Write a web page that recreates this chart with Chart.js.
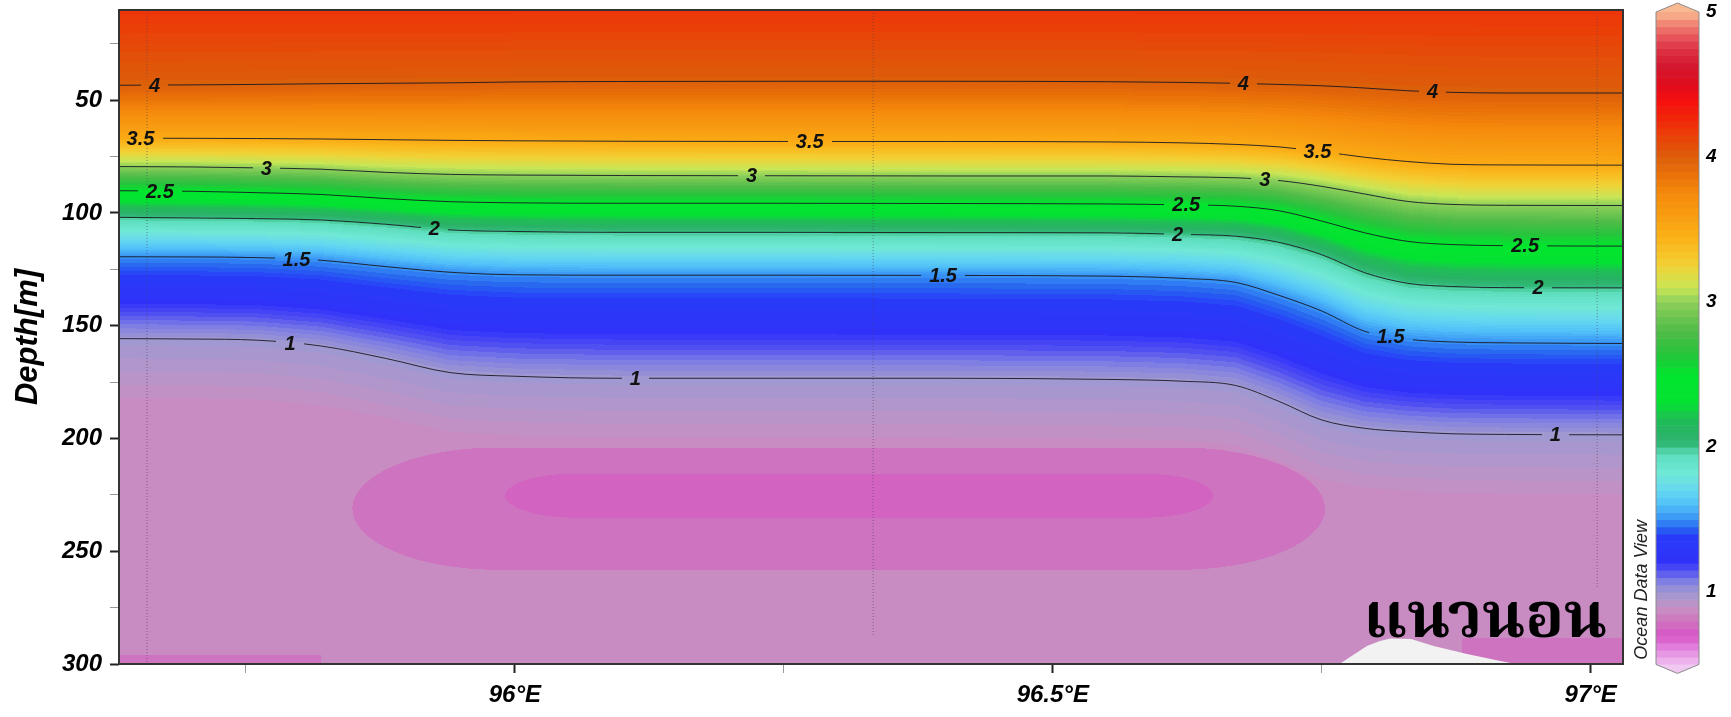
<!DOCTYPE html>
<html>
<head>
<meta charset="utf-8">
<script src="https://cdn.jsdelivr.net/npm/chart.js@4.4.1/dist/chart.umd.min.js"></script>
<style>
  html, body { margin: 0; padding: 0; background: #fff; }
  canvas { display: block; }
</style>
</head>
<body>
<canvas id="sectionChart" width="1731" height="717"></canvas>
<script>
// stations along the section and the deepest sample of each
const stationLon = [95.658, 96.333, 97.006];
const stationDepth = [300, 288, 266];

const sampleLon = [95.62, 95.70, 95.76, 95.82, 95.88, 95.94, 96.00, 96.10, 96.25, 96.40, 96.55, 96.62, 96.67, 96.71, 96.75, 96.79, 96.83, 96.87, 96.92, 97.04];

// contour levels and depth (m) of each isoline at sampleLon
const levels = [4, 3.5, 3, 2.5, 2, 1.5, 1];
const iso4  = [43.4, 43.2, 43.0, 42.7, 42.5, 42.3, 41.9, 41.7, 41.6, 41.6, 41.8, 42.1, 42.5, 43.0, 43.6, 44.6, 45.8, 46.5, 46.8, 46.8];
const iso35 = [66.8, 66.9, 67.0, 67.2, 67.5, 67.8, 68.0, 68.2, 68.3, 68.3, 68.5, 68.9, 69.6, 70.7, 72.8, 75.3, 77.2, 78.4, 78.7, 78.8];
const iso3  = [79.4, 79.6, 80.0, 80.6, 82.0, 82.9, 83.2, 83.4, 83.5, 83.6, 83.6, 84.0, 84.4, 85.6, 88.2, 91.6, 94.9, 96.2, 96.6, 96.7];
const iso25 = [90.1, 90.4, 91.0, 91.8, 93.6, 95.0, 95.5, 95.7, 95.7, 95.8, 96.0, 96.4, 97.0, 99.0, 103.6, 108.8, 112.6, 114.0, 114.5, 114.7];
const iso2  = [101.9, 102.2, 102.5, 103.1, 105.0, 107.5, 108.2, 108.6, 108.6, 108.7, 108.8, 109.5, 110.3, 113.0, 118.5, 126.5, 131.2, 132.6, 133.1, 133.2];
const iso15 = [119.4, 119.5, 119.8, 121.0, 123.8, 126.3, 127.4, 127.6, 127.6, 127.7, 128.0, 129.0, 130.8, 136.5, 143.5, 152.5, 156.0, 157.2, 157.6, 157.9];
const iso1  = [155.7, 155.9, 156.4, 159.0, 164.5, 170.8, 172.4, 173.3, 173.3, 173.3, 173.8, 174.6, 176.5, 183.5, 191.8, 195.5, 197.0, 197.9, 198.2, 198.4];
const surfaceValue = 4.2;
const deepValue = 0.88;

// low-value cores and patches below the 1 isoline
const coreLonMin   = [95.849, 95.991, 95.60, 96.88];
const coreLonMax   = [96.753, 96.649, 95.82, 97.05];
const coreDepthMin = [204.0, 215.6, 296.0, 288.5];
const coreDepthMax = [258.2, 235.1, 310.0, 310.0];
const coreEnd      = [0.135, 0.065, 0, 0];
const coreValue    = [0.81, 0.755, 0.81, 0.81];

// area without data near the bottom
const gapLon   = [96.765, 96.776, 96.792, 96.804, 96.814, 96.833, 96.854, 96.885, 96.916, 96.936];
const gapDepth = [300.5, 297.0, 292.0, 289.8, 288.7, 288.9, 292.0, 295.6, 298.7, 300.5];

// contour labels
const labelLevel = [4, 4, 4, 3.5, 3.5, 3.5, 3, 3, 3, 2.5, 2.5, 2.5, 2, 2, 2, 1.5, 1.5, 1.5, 1, 1, 1];
const labelLon = [95.665, 96.677, 96.853, 95.652, 96.274, 96.746, 95.769, 96.220, 96.697, 95.670, 96.624, 96.939,
                  95.925, 96.616, 96.951, 95.797, 96.398, 96.814, 95.791, 96.112, 96.967];

// axis ticks
const depthTicks = [25, 50, 75, 100, 125, 150, 175, 200, 225, 250, 275, 300];
const lonTicks = [95.75, 96, 96.25, 96.5, 96.75, 97];
const colorTicks = [1, 2, 3, 4, 5];

const isoLines = [iso4, iso35, iso3, iso25, iso2, iso15, iso1];

const colorStops = [
  [0.5, 240, 190, 240], [0.6, 228, 140, 225], [0.7, 215, 85, 200], [0.76, 210, 102, 192],
  [0.82, 204, 122, 190], [0.88, 200, 142, 195], [0.94, 180, 150, 202], [1.0, 160, 152, 208],
  [1.08, 125, 125, 228], [1.15, 80, 80, 242], [1.22, 48, 50, 250], [1.38, 40, 58, 248],
  [1.45, 40, 105, 240], [1.5, 55, 145, 245], [1.6, 80, 190, 248], [1.7, 100, 215, 240],
  [1.82, 112, 232, 215], [1.95, 95, 222, 190], [2.02, 50, 185, 120], [2.1, 40, 178, 100],
  [2.2, 30, 190, 85], [2.3, 5, 225, 50], [2.5, 0, 230, 45], [2.65, 40, 195, 60],
  [2.8, 80, 188, 72], [3.0, 140, 207, 90], [3.1, 200, 230, 85], [3.25, 240, 210, 55],
  [3.4, 250, 185, 30], [3.5, 250, 170, 20], [3.75, 245, 138, 12], [3.9, 232, 110, 8],
  [4.0, 220, 95, 10], [4.15, 234, 64, 8], [4.28, 242, 35, 10], [4.39, 245, 15, 12],
  [4.5, 225, 12, 30], [4.62, 210, 22, 45], [4.76, 222, 55, 72], [4.86, 235, 100, 100],
  [4.95, 243, 150, 125], [5.0, 248, 185, 145]
];

function colorFor(v) {
  if (v <= colorStops[0][0]) return colorStops[0].slice(1);
  for (let i = 1; i < colorStops.length; i++) {
    const b = colorStops[i];
    if (v <= b[0]) {
      const a = colorStops[i - 1];
      const t = (v - a[0]) / (b[0] - a[0]);
      return [0, 1, 2].map(k => Math.round(a[k + 1] + t * (b[k + 1] - a[k + 1])));
    }
  }
  return colorStops[colorStops.length - 1].slice(1);
}
const rgb = c => 'rgb(' + c.join(',') + ')';

// lookup table, field is shown in steps of 0.025
const STEP = 0.025;
const lut = [];
for (let i = 0; i <= 180; i++) lut.push(colorFor(0.5 + i * STEP));

function interpAt(xs, ys, x) {
  if (x <= xs[0]) return ys[0];
  for (let i = 1; i < xs.length; i++) {
    if (x <= xs[i]) {
      const t = (x - xs[i - 1]) / (xs[i] - xs[i - 1]);
      return ys[i - 1] + t * (ys[i] - ys[i - 1]);
    }
  }
  return ys[ys.length - 1];
}

function fieldValue(lon, depth, d) {
  const n = d.length;
  let v;
  if (depth <= d[0]) {
    v = levels[0] + (surfaceValue - levels[0]) * Math.min(1, (d[0] - depth) / (d[0] - 10));
  } else if (depth >= d[n - 1]) {
    v = levels[n - 1] + (deepValue - levels[n - 1]) * Math.min(1, (depth - d[n - 1]) / 28);
  } else {
    for (let k = 0; k < n - 1; k++) {
      if (depth <= d[k + 1]) {
        v = levels[k] + (levels[k + 1] - levels[k]) * (depth - d[k]) / (d[k + 1] - d[k]);
        break;
      }
    }
  }
  for (let b = 0; b < coreValue.length; b++) {
    if (lon < coreLonMin[b] || lon > coreLonMax[b] || depth < coreDepthMin[b] || depth > coreDepthMax[b]) continue;
    const r = coreEnd[b];
    let inside = true;
    if (r > 0) {
      const dx = Math.max(0, coreLonMin[b] + r - lon, lon - (coreLonMax[b] - r)) / r;
      const c = (coreDepthMin[b] + coreDepthMax[b]) / 2;
      const h = (coreDepthMax[b] - coreDepthMin[b]) / 2;
      const dy = (depth - c) / h;
      inside = dx * dx + dy * dy <= 1;
    }
    if (inside) v = Math.min(v, coreValue[b]);
  }
  return v;
}

let field = null;
function buildField(chart) {
  const {left, top, right, bottom} = chart.chartArea;
  const w = Math.round(right - left), h = Math.round(bottom - top);
  const off = document.createElement('canvas');
  off.width = w; off.height = h;
  const octx = off.getContext('2d');
  const img = octx.createImageData(w, h);
  const xs = chart.scales.x, ys = chart.scales.y;
  const depths = [];
  for (let j = 0; j < h; j++) depths.push(ys.getValueForPixel(top + j + 0.5));
  for (let i = 0; i < w; i++) {
    const lon = xs.getValueForPixel(left + i + 0.5);
    const d = isoLines.map(a => interpAt(sampleLon, a, lon));
    for (let j = 0; j < h; j++) {
      const v = fieldValue(lon, depths[j], d);
      const idx = Math.max(0, Math.min(180, Math.round((v - 0.5) / STEP)));
      const c = lut[idx];
      const p = (j * w + i) * 4;
      img.data[p] = c[0]; img.data[p + 1] = c[1]; img.data[p + 2] = c[2]; img.data[p + 3] = 255;
    }
  }
  octx.putImageData(img, 0, 0);
  return {canvas: off, left, top, w, h};
}

const FONT = '"Liberation Sans", Arial, sans-serif';

const sectionPlugin = {
  id: 'section',
  beforeDatasetsDraw(chart) {
    if (!field) field = buildField(chart);
    chart.ctx.drawImage(field.canvas, field.left, field.top);
  },
  afterDatasetsDraw(chart) {
    const ctx = chart.ctx;
    const xs = chart.scales.x, ys = chart.scales.y;
    const area = chart.chartArea;
    ctx.save();
    ctx.beginPath();
    ctx.rect(area.left, area.top, area.right - area.left, area.bottom - area.top);
    ctx.clip();
    ctx.font = 'italic bold 20px ' + FONT;
    ctx.textAlign = 'center';
    ctx.textBaseline = 'middle';
    ctx.fillStyle = '#111';
    labelLevel.forEach((lev, k) => {
      const lon = labelLon[k];
      const depth = interpAt(sampleLon, isoLines[levels.indexOf(lev)], lon);
      const px = xs.getPixelForValue(lon), py = ys.getPixelForValue(depth);
      const text = String(lev);
      const bw = ctx.measureText(text).width + 16, bh = 12;
      const bx = Math.max(area.left, px - bw / 2), by = py - bh / 2;
      ctx.drawImage(field.canvas, bx - field.left, by - field.top, bw, bh, bx, by, bw, bh);
      ctx.fillText(text, px, py + 1);
    });
    // section title inside the plot
    ctx.font = 'bold 64px "Noto Serif Thai", "Noto Sans Thai Looped", Norasi, Kinnari, "Tlwg Typo", Garuda, Loma, "Noto Sans Thai", sans-serif';
    ctx.textAlign = 'right';
    ctx.textBaseline = 'alphabetic';
    ctx.fillStyle = '#000';
    ctx.fillText('แนวนอน', area.right - 16, area.bottom - 27);
    ctx.restore();
  },
  afterDraw(chart) {
    const ctx = chart.ctx;
    const area = chart.chartArea;
    ctx.save();
    // plot frame
    ctx.strokeStyle = '#333';
    ctx.lineWidth = 2;
    ctx.strokeRect(area.left, area.top, area.right - area.left, area.bottom - area.top);

    // colour bar on the cb scale
    const cb = chart.scales.cb;
    const x0 = cb.left + 33, bw = 43;
    for (let i = 0; i < 90; i++) {
      const v0 = 0.5 + i * 0.05;
      const yTop = cb.getPixelForValue(v0 + 0.05), yBot = cb.getPixelForValue(v0);
      ctx.fillStyle = rgb(colorFor(v0 + 0.025));
      ctx.fillRect(x0, yTop, bw, yBot - yTop + 0.6);
    }
    const y5 = cb.getPixelForValue(5), y05 = cb.getPixelForValue(0.5);
    ctx.fillStyle = rgb(colorFor(5));
    ctx.beginPath();
    ctx.moveTo(x0, y5); ctx.lineTo(x0 + bw / 2, y5 - 9); ctx.lineTo(x0 + bw, y5); ctx.closePath();
    ctx.fill();
    ctx.fillStyle = 'rgb(240,200,242)';
    ctx.beginPath();
    ctx.moveTo(x0, y05); ctx.lineTo(x0 + bw / 2, y05 + 9); ctx.lineTo(x0 + bw, y05); ctx.closePath();
    ctx.fill();
    ctx.strokeStyle = '#8a8a8a';
    ctx.lineWidth = 1;
    ctx.beginPath();
    ctx.moveTo(x0, y5); ctx.lineTo(x0 + bw / 2, y5 - 9); ctx.lineTo(x0 + bw, y5);
    ctx.lineTo(x0 + bw, y05); ctx.lineTo(x0 + bw / 2, y05 + 9); ctx.lineTo(x0, y05); ctx.closePath();
    ctx.stroke();

    // software tag
    ctx.translate(cb.left + 18.5, cb.getPixelForValue(1.015));
    ctx.rotate(-Math.PI / 2);
    ctx.font = 'italic 18px ' + FONT;
    ctx.fillStyle = '#222';
    ctx.textAlign = 'center';
    ctx.textBaseline = 'middle';
    ctx.fillText('Ocean Data View', 0, 0);
    ctx.restore();
  }
};

const isMajorLon = v => Math.abs(v * 2 - Math.round(v * 2)) < 1e-6;
const tickFont = {family: FONT, size: 24, style: 'italic', weight: 'bold'};

// vertical scales must not push the plot area down with their label padding
function fixVertical(width) {
  return s => { s.width = width; s.paddingTop = 0; s.paddingBottom = 0; };
}

const datasets = [];
levels.forEach((lev, k) => {
  datasets.push({
    label: 'isoline ' + lev,
    data: sampleLon.map((x, i) => ({x, y: isoLines[k][i]})),
    borderColor: 'rgba(25,25,35,0.9)',
    borderWidth: 1,
    pointRadius: 0,
    cubicInterpolationMode: 'monotone',
    fill: false
  });
});
stationLon.forEach((lon, k) => {
  datasets.push({
    label: 'station ' + (k + 1),
    data: [{x: lon, y: 10}, {x: lon, y: stationDepth[k]}],
    borderColor: 'rgba(70,60,90,0.55)',
    borderWidth: 1,
    borderDash: [1, 2],
    pointRadius: 0,
    fill: false
  });
});
datasets.push({
  label: 'no data',
  data: gapLon.map((x, i) => ({x, y: gapDepth[i]})),
  borderWidth: 0,
  pointRadius: 0,
  backgroundColor: 'rgb(242,242,242)',
  fill: {value: 300}
});

const ctx = document.getElementById('sectionChart').getContext('2d');
const sectionChart = new Chart(ctx, {
  type: 'line',
  data: {datasets},
  plugins: [sectionPlugin],
  options: {
    responsive: false,
    devicePixelRatio: 1,
    animation: false,
    layout: {padding: {top: 10, left: 0, right: 0, bottom: 0}},
    plugins: {legend: {display: false}, tooltip: {enabled: false}},
    scales: {
      x: {
        type: 'linear',
        min: 95.632,
        max: 97.03,
        afterBuildTicks: s => { s.ticks = lonTicks.map(v => ({value: v})); },
        afterFit: s => { s.height = 53; s.paddingLeft = 0; s.paddingRight = 0; },
        ticks: {
          autoSkip: false,
          maxRotation: 0,
          padding: 8,
          color: '#000',
          font: tickFont,
          callback: v => isMajorLon(v) ? v + '°E' : ''
        },
        grid: {
          drawOnChartArea: false,
          tickLength: 9,
          tickColor: c => (c.tick && isMajorLon(c.tick.value)) ? '#222' : '#999',
          tickWidth: c => (c.tick && isMajorLon(c.tick.value)) ? 2 : 1
        },
        border: {display: false}
      },
      y: {
        type: 'linear',
        reverse: true,
        min: 10,
        max: 300,
        afterBuildTicks: s => { s.ticks = depthTicks.map(v => ({value: v})); },
        afterFit: fixVertical(119),
        ticks: {
          autoSkip: false,
          padding: 8,
          color: '#000',
          font: tickFont,
          callback: v => v % 50 === 0 ? String(v) : ''
        },
        grid: {
          drawOnChartArea: false,
          tickLength: 9,
          tickColor: c => (c.tick && c.tick.value % 50 === 0) ? '#222' : '#999',
          tickWidth: c => (c.tick && c.tick.value % 50 === 0) ? 2 : 1
        },
        border: {display: false},
        title: {
          display: true,
          text: 'Depth[m]',
          color: '#000',
          font: {family: FONT, size: 31, style: 'italic', weight: 'bold', lineHeight: 1.2},
          padding: {top: 10, bottom: 0}
        }
      },
      cb: {
        type: 'linear',
        position: 'right',
        min: 0.503,
        max: 5.014,
        afterBuildTicks: s => { s.ticks = colorTicks.map(v => ({value: v})); },
        afterFit: fixVertical(108),
        ticks: {
          padding: 83,
          color: '#000',
          font: {family: FONT, size: 19, style: 'italic', weight: 'bold'}
        },
        grid: {display: false, drawTicks: false, drawOnChartArea: false},
        border: {display: false}
      }
    }
  }
});
</script>
</body>
</html>
